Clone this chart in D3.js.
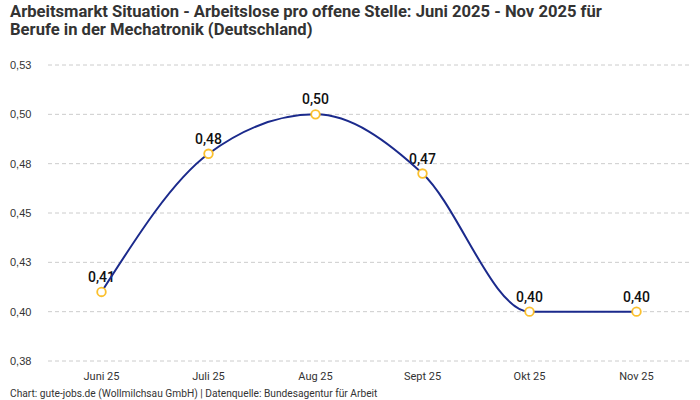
<!DOCTYPE html>
<html><head><meta charset="utf-8">
<script src="https://cdn.jsdelivr.net/npm/d3@7"></script>
<style>body{margin:0;background:#fff}svg{display:block}</style>
</head><body>
<svg id="c" width="700" height="400"></svg>
<script>
const categories = ["Juni 25","Juli 25","Aug 25","Sept 25","Okt 25","Nov 25"];
const values = [0.41, 0.48, 0.50, 0.47, 0.40, 0.40];
const valueLabels = ["0,41","0,48","0,50","0,47","0,40","0,40"];
const yTicks = [0.375, 0.4, 0.425, 0.45, 0.475, 0.5, 0.525];
const yTickLabels = ["0,38","0,40","0,43","0,45","0,48","0,50","0,53"];
const titleLines = ["Arbeitsmarkt Situation - Arbeitslose pro offene Stelle: Juni 2025 - Nov 2025 für","Berufe in der Mechatronik (Deutschland)"];
const footer = "Chart: gute-jobs.de (Wollmilchsau GmbH) | Datenquelle: Bundesagentur für Arbeit";

const svg = d3.select("#c");
const font = "Roboto, 'Noto Sans', sans-serif";
const x = d3.scaleBand().domain(categories).range([48, 690]).padding(0);
const y = d3.scaleLinear().domain([0.375, 0.525]).range([361, 65]);

svg.selectAll("text.title").data(titleLines).join("text")
  .attr("x", 10).attr("y", (d,i)=>17 + i*18)
  .attr("font-family", font).attr("font-weight", 700).attr("font-size", 16.6)
  .attr("fill", "#333").text(d=>d);

const g = svg.append("g");
g.selectAll("line.grid").data(yTicks).join("line")
  .attr("x1", 48).attr("x2", 690)
  .attr("y1", d=>y(d)).attr("y2", d=>y(d))
  .attr("stroke", "#ccc").attr("stroke-dasharray", "4,3").attr("stroke-width", 1);
g.selectAll("text.yl").data(yTicks).join("text")
  .attr("x", 10).attr("y", d=>y(d)+4)
  .attr("font-family", "'Liberation Sans', Arial, sans-serif").attr("font-size", 11)
  .attr("fill", "#333").text((d,i)=>yTickLabels[i]);

g.selectAll("text.xl").data(categories).join("text")
  .attr("x", d=>x(d)+x.bandwidth()/2).attr("y", 380)
  .attr("text-anchor", "middle")
  .attr("font-family", font).attr("font-size", 11)
  .attr("fill", "#333").text(d=>d);

const pts = categories.map((c,i)=>({c, v: values[i], l: valueLabels[i]}));
g.selectAll("text.vl").data(pts).join("text")
  .attr("x", d=>x(d.c)+x.bandwidth()/2).attr("y", d=>y(d.v)-10)
  .attr("text-anchor", "middle")
  .attr("font-family", font).attr("font-weight", 500).attr("font-size", 14)
  .attr("fill", "#111").text(d=>d.l);

const line = d3.line().x(d=>x(d.c)+x.bandwidth()/2).y(d=>y(d.v)).curve(d3.curveMonotoneX);
g.append("path").datum(pts).attr("d", line)
  .attr("fill", "none").attr("stroke", "#1b2a8c").attr("stroke-width", 2);

g.selectAll("circle").data(pts).join("circle")
  .attr("cx", d=>x(d.c)+x.bandwidth()/2).attr("cy", d=>y(d.v)).attr("r", 4.3)
  .attr("fill", "#fff").attr("stroke", "#fbc02d").attr("stroke-width", 1.8);

svg.append("text").attr("x", 10).attr("y", 397)
  .attr("font-family", font).attr("font-size", 10.2)
  .attr("fill", "#333").text(footer);
</script>
</body></html>
